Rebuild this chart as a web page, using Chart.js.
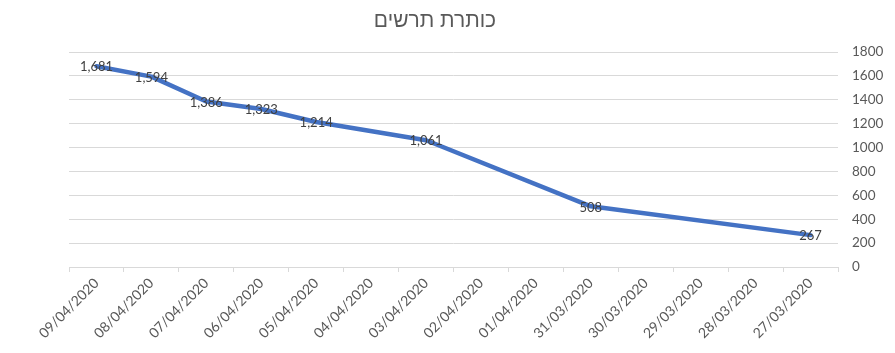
<!DOCTYPE html>
<html>
<head>
<meta charset="utf-8">
<script src="https://cdn.jsdelivr.net/npm/chart.js@4/dist/chart.umd.min.js"></script>
<style>
  html, body { margin: 0; padding: 0; background: #ffffff; }
  #wrap { width: 895px; height: 353px; position: relative; }
</style>
</head>
<body>
<div id="wrap"><canvas id="c" width="895" height="353"></canvas></div>
<script>
const chartTitle = 'כותרת תרשים';
const categories = ['09/04/2020','08/04/2020','07/04/2020','06/04/2020','05/04/2020','04/04/2020','03/04/2020',
                    '02/04/2020','01/04/2020','31/03/2020','30/03/2020','29/03/2020','28/03/2020','27/03/2020'];
const values = [1681, 1594, 1386, 1323, 1214, null, 1061, null, null, 508, null, null, null, 267];
const yMin = 0;
const yMax = 1800;
const yStep = 200;

const labelPlugin = {
  id: 'pointLabels',
  afterDatasetsDraw(chart) {
    const ctx = chart.ctx;
    const meta = chart.getDatasetMeta(0);
    ctx.save();
    ctx.font = '13px Lato, "Liberation Sans", sans-serif';
    ctx.fillStyle = '#404040';
    ctx.textAlign = 'center';
    ctx.textBaseline = 'middle';
    meta.data.forEach((pt, i) => {
      const v = values[i];
      if (v === null || v === undefined) return;
      ctx.fillText(v.toLocaleString('en-US'), pt.x, pt.y + 1);
    });
    ctx.restore();
  }
};

const titlePlugin = {
  id: 'topTitle',
  afterDraw(chart) {
    const ctx = chart.ctx;
    ctx.save();
    ctx.font = '21px "Liberation Sans", "DejaVu Sans", sans-serif';
    ctx.fillStyle = '#595959';
    ctx.textAlign = 'center';
    ctx.textBaseline = 'middle';
    ctx.fillText(chartTitle, 435, 21);
    ctx.restore();
  }
};

const bgPlugin = {
  id: 'bg',
  beforeDraw(chart) {
    const ctx = chart.ctx;
    ctx.save();
    ctx.fillStyle = '#ffffff';
    ctx.fillRect(0, 0, chart.width, chart.height);
    ctx.restore();
  }
};

new Chart(document.getElementById('c'), {
  type: 'line',
  data: {
    labels: categories,
    datasets: [{
      data: values,
      borderColor: '#4472C4',
      borderWidth: 4.5,
      pointRadius: 0,
      pointHoverRadius: 0,
      spanGaps: true,
      tension: 0,
      fill: false,
      borderCapStyle: 'round',
      borderJoinStyle: 'round'
    }]
  },
  options: {
    responsive: false,
    animation: false,
    devicePixelRatio: 1,
    layout: { padding: { left: 69, right: 0, top: 52, bottom: 0 } },
    plugins: {
      legend: { display: false },
      title: { display: false },
      tooltip: { enabled: false }
    },
    scales: {
      x: {
        type: 'category',
        offset: true,
        grid: {
          display: true,
          drawOnChartArea: false,
          drawTicks: true,
          tickLength: 5,
          color: '#d9d9d9',
          offset: true
        },
        border: { display: true, color: '#d9d9d9' },
        ticks: {
          autoSkip: false,
          minRotation: 45,
          maxRotation: 45,
          padding: 3,
          color: '#595959',
          font: { family: 'Lato, "Liberation Sans", sans-serif', size: 14 }
        },
        afterFit(scale) { scale.height = 86; }
      },
      y: {
        position: 'right',
        min: yMin,
        max: yMax,
        ticks: {
          stepSize: yStep,
          padding: 14,
          color: '#595959',
          font: { family: 'Lato, "Liberation Sans", sans-serif', size: 13.5 },
          callback: (v) => String(v)
        },
        grid: { color: '#d9d9d9', drawTicks: false, lineWidth: 1 },
        border: { display: false },
        afterFit(scale) { scale.width = 57; }
      }
    }
  },
  plugins: [bgPlugin, labelPlugin, titlePlugin]
});
</script>
</body>
</html>
